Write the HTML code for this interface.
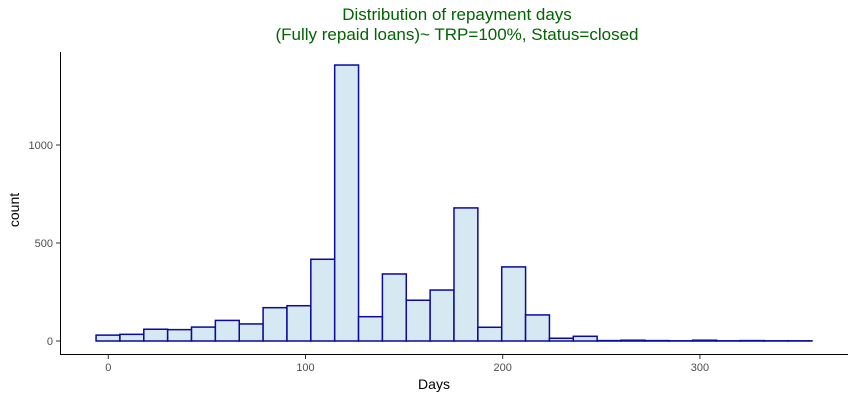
<!DOCTYPE html>
<html><head><meta charset="utf-8"><style>
body{margin:0;background:#fff;font-family:"Liberation Sans",sans-serif}
</style></head><body>
<svg width="855" height="400" id="chart" font-family="Liberation Sans, sans-serif">
<text x="457" y="20" text-anchor="middle" font-size="17" fill="#006400">Distribution of repayment days</text>
<text x="457" y="40" text-anchor="middle" font-size="17" fill="#006400">(Fully repaid loans)~ TRP=100%, Status=closed</text>
<g id="bars"></g>
<line x1="60.5" y1="52" x2="60.5" y2="354.5" stroke="#000"/>
<line x1="60" y1="354.5" x2="848" y2="354.5" stroke="#000"/>
<g id="ticks"></g>
<text x="434" y="389" text-anchor="middle" font-size="14">Days</text>
<text transform="translate(19,210) rotate(-90)" text-anchor="middle" font-size="14">count</text>
</svg>
<script>
const binStarts=[-6.2,5.9,18,30.1,42.2,54.3,66.4,78.5,90.6,102.7,114.8,126.9,139,151.1,163.2,175.3,187.4,199.5,211.6,223.7,235.8,247.9,260,272.1,284.2,296.3,308.4,320.5,332.6,344.7];
const binWidth=12.1;
const counts=[30,34,60,58,71,105,87,170,180,417,1408,124,342,208,260,679,70,378,133,14,24,2,4,2,1,4,1,2,1,1];
const xTicks=[0,100,200,300];
const yTicks=[0,500,1000];
const NS="http://www.w3.org/2000/svg";
const xs=v=>108.3+v*1.972;
const ys=v=>341+(-v)*0.196;
const bars=document.getElementById('bars');
binStarts.forEach((b,i)=>{
 const r=document.createElementNS(NS,'rect');
 const x0=xs(b),x1=xs(b+binWidth),y0=ys(counts[i]);
 r.setAttribute('x',x0);r.setAttribute('y',y0);
 r.setAttribute('width',x1-x0);r.setAttribute('height',ys(0)-y0);
 r.setAttribute('fill','#d6e9f2');r.setAttribute('stroke','#0a0a9c');r.setAttribute('stroke-width','1.5');
 
 
 bars.appendChild(r);
});
const t=document.getElementById('ticks');
xTicks.forEach(v=>{
 const l=document.createElementNS(NS,'line');
 l.setAttribute('x1',xs(v));l.setAttribute('x2',xs(v));l.setAttribute('y1',355);l.setAttribute('y2',359);l.setAttribute('stroke','#333');
 
 
 t.appendChild(l);
 const tx=document.createElementNS(NS,'text');
 tx.setAttribute('x',xs(v));tx.setAttribute('y',371);tx.setAttribute('text-anchor','middle');tx.setAttribute('font-size','11');tx.setAttribute('fill','#4d4d4d');
 tx.textContent=v;
 
 
 t.appendChild(tx);
});
yTicks.forEach(v=>{
 const l=document.createElementNS(NS,'line');
 l.setAttribute('x1',56);l.setAttribute('x2',60);l.setAttribute('y1',ys(v));l.setAttribute('y2',ys(v));l.setAttribute('stroke','#333');
 
 
 t.appendChild(l);
 const tx=document.createElementNS(NS,'text');
 tx.setAttribute('x',53);tx.setAttribute('y',ys(v)+4);tx.setAttribute('text-anchor','end');tx.setAttribute('font-size','11');tx.setAttribute('fill','#4d4d4d');
 tx.textContent=v;
 
 
 t.appendChild(tx);
});
</script>
</body></html>
